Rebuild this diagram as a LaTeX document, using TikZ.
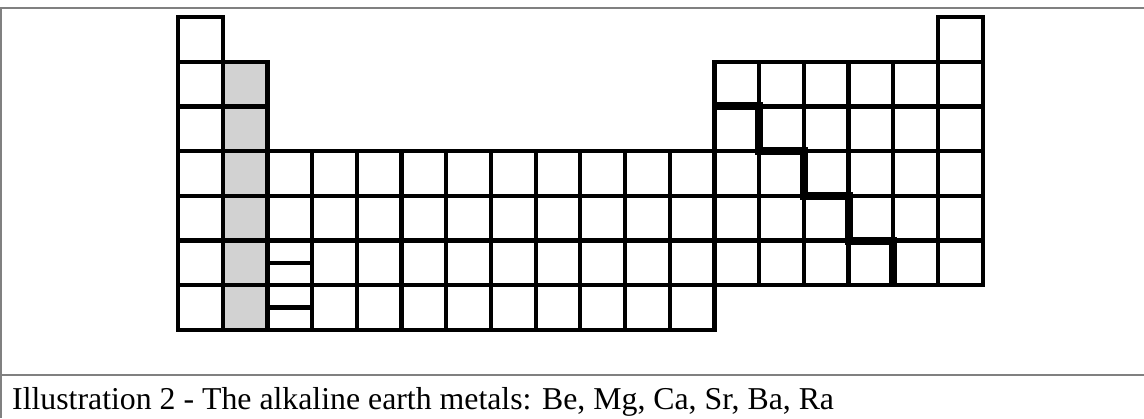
\documentclass[tikz,border=0pt]{standalone}
\usepackage{fontspec}
\setmainfont{Liberation Serif}
\begin{document}
\begin{tikzpicture}[x=1pt,y=-1pt,
  cell/.style={draw=black,line width=4.2pt},
  graycell/.style={fill=gray!35!white},
  frame/.style={draw=black!50,line width=2pt},
  stair/.style={draw=black,line width=8pt,line join=miter},
  caption/.style={anchor=base west,inner sep=0pt,font=\fontsize{31.8}{36}\selectfont}]
\useasboundingbox (0,0) rectangle (1144,418);
\def\xo{178}\def\yo{17}\def\w{44.7}
% gray column (group 2)
\fill[graycell] ({\xo+\w},{\yo+\w}) rectangle ({\xo+2*\w},{\yo+7*\w});
% cells
\newcommand{\cellat}[2]{\draw[cell] ({\xo+#1*\w},{\yo+#2*\w}) rectangle ({\xo+(#1+1)*\w},{\yo+(#2+1)*\w});}
\cellat{0}{0}
\cellat{17}{0}
\foreach \r in {1,2}{
  \foreach \c in {0,1,12,13,14,15,16,17}{\cellat{\c}{\r}}
}
\foreach \r in {3,4,5}{
  \foreach \c in {0,...,17}{\cellat{\c}{\r}}
}
\foreach \c in {0,...,11}{\cellat{\c}{6}}
% split cells
\draw[cell] ({\xo+2*\w},{\yo+5.5*\w}) -- ({\xo+3*\w},{\yo+5.5*\w});
\draw[cell] ({\xo+2*\w},{\yo+6.5*\w}) -- ({\xo+3*\w},{\yo+6.5*\w});
% metal / nonmetal staircase
\draw[stair] ({\xo+12*\w},{\yo+2*\w}) -- ({\xo+13*\w},{\yo+2*\w}) -- ({\xo+13*\w},{\yo+3*\w})
  -- ({\xo+14*\w},{\yo+3*\w}) -- ({\xo+14*\w},{\yo+4*\w}) -- ({\xo+15*\w},{\yo+4*\w})
  -- ({\xo+15*\w},{\yo+5*\w}) -- ({\xo+16*\w},{\yo+5*\w}) -- ({\xo+16*\w},{\yo+6*\w});
% frame
\draw[frame] (0,8) -- (1144,8);
\draw[frame] (1.3,8) -- (1.3,418);
\draw[frame] (0,375) -- (1144,375);
\node[caption] (cap) at (12,409) {Illustration 2 - The alkaline earth metals: Be, Mg, Ca, Sr, Ba, Ra};
\end{tikzpicture}
\end{document}
